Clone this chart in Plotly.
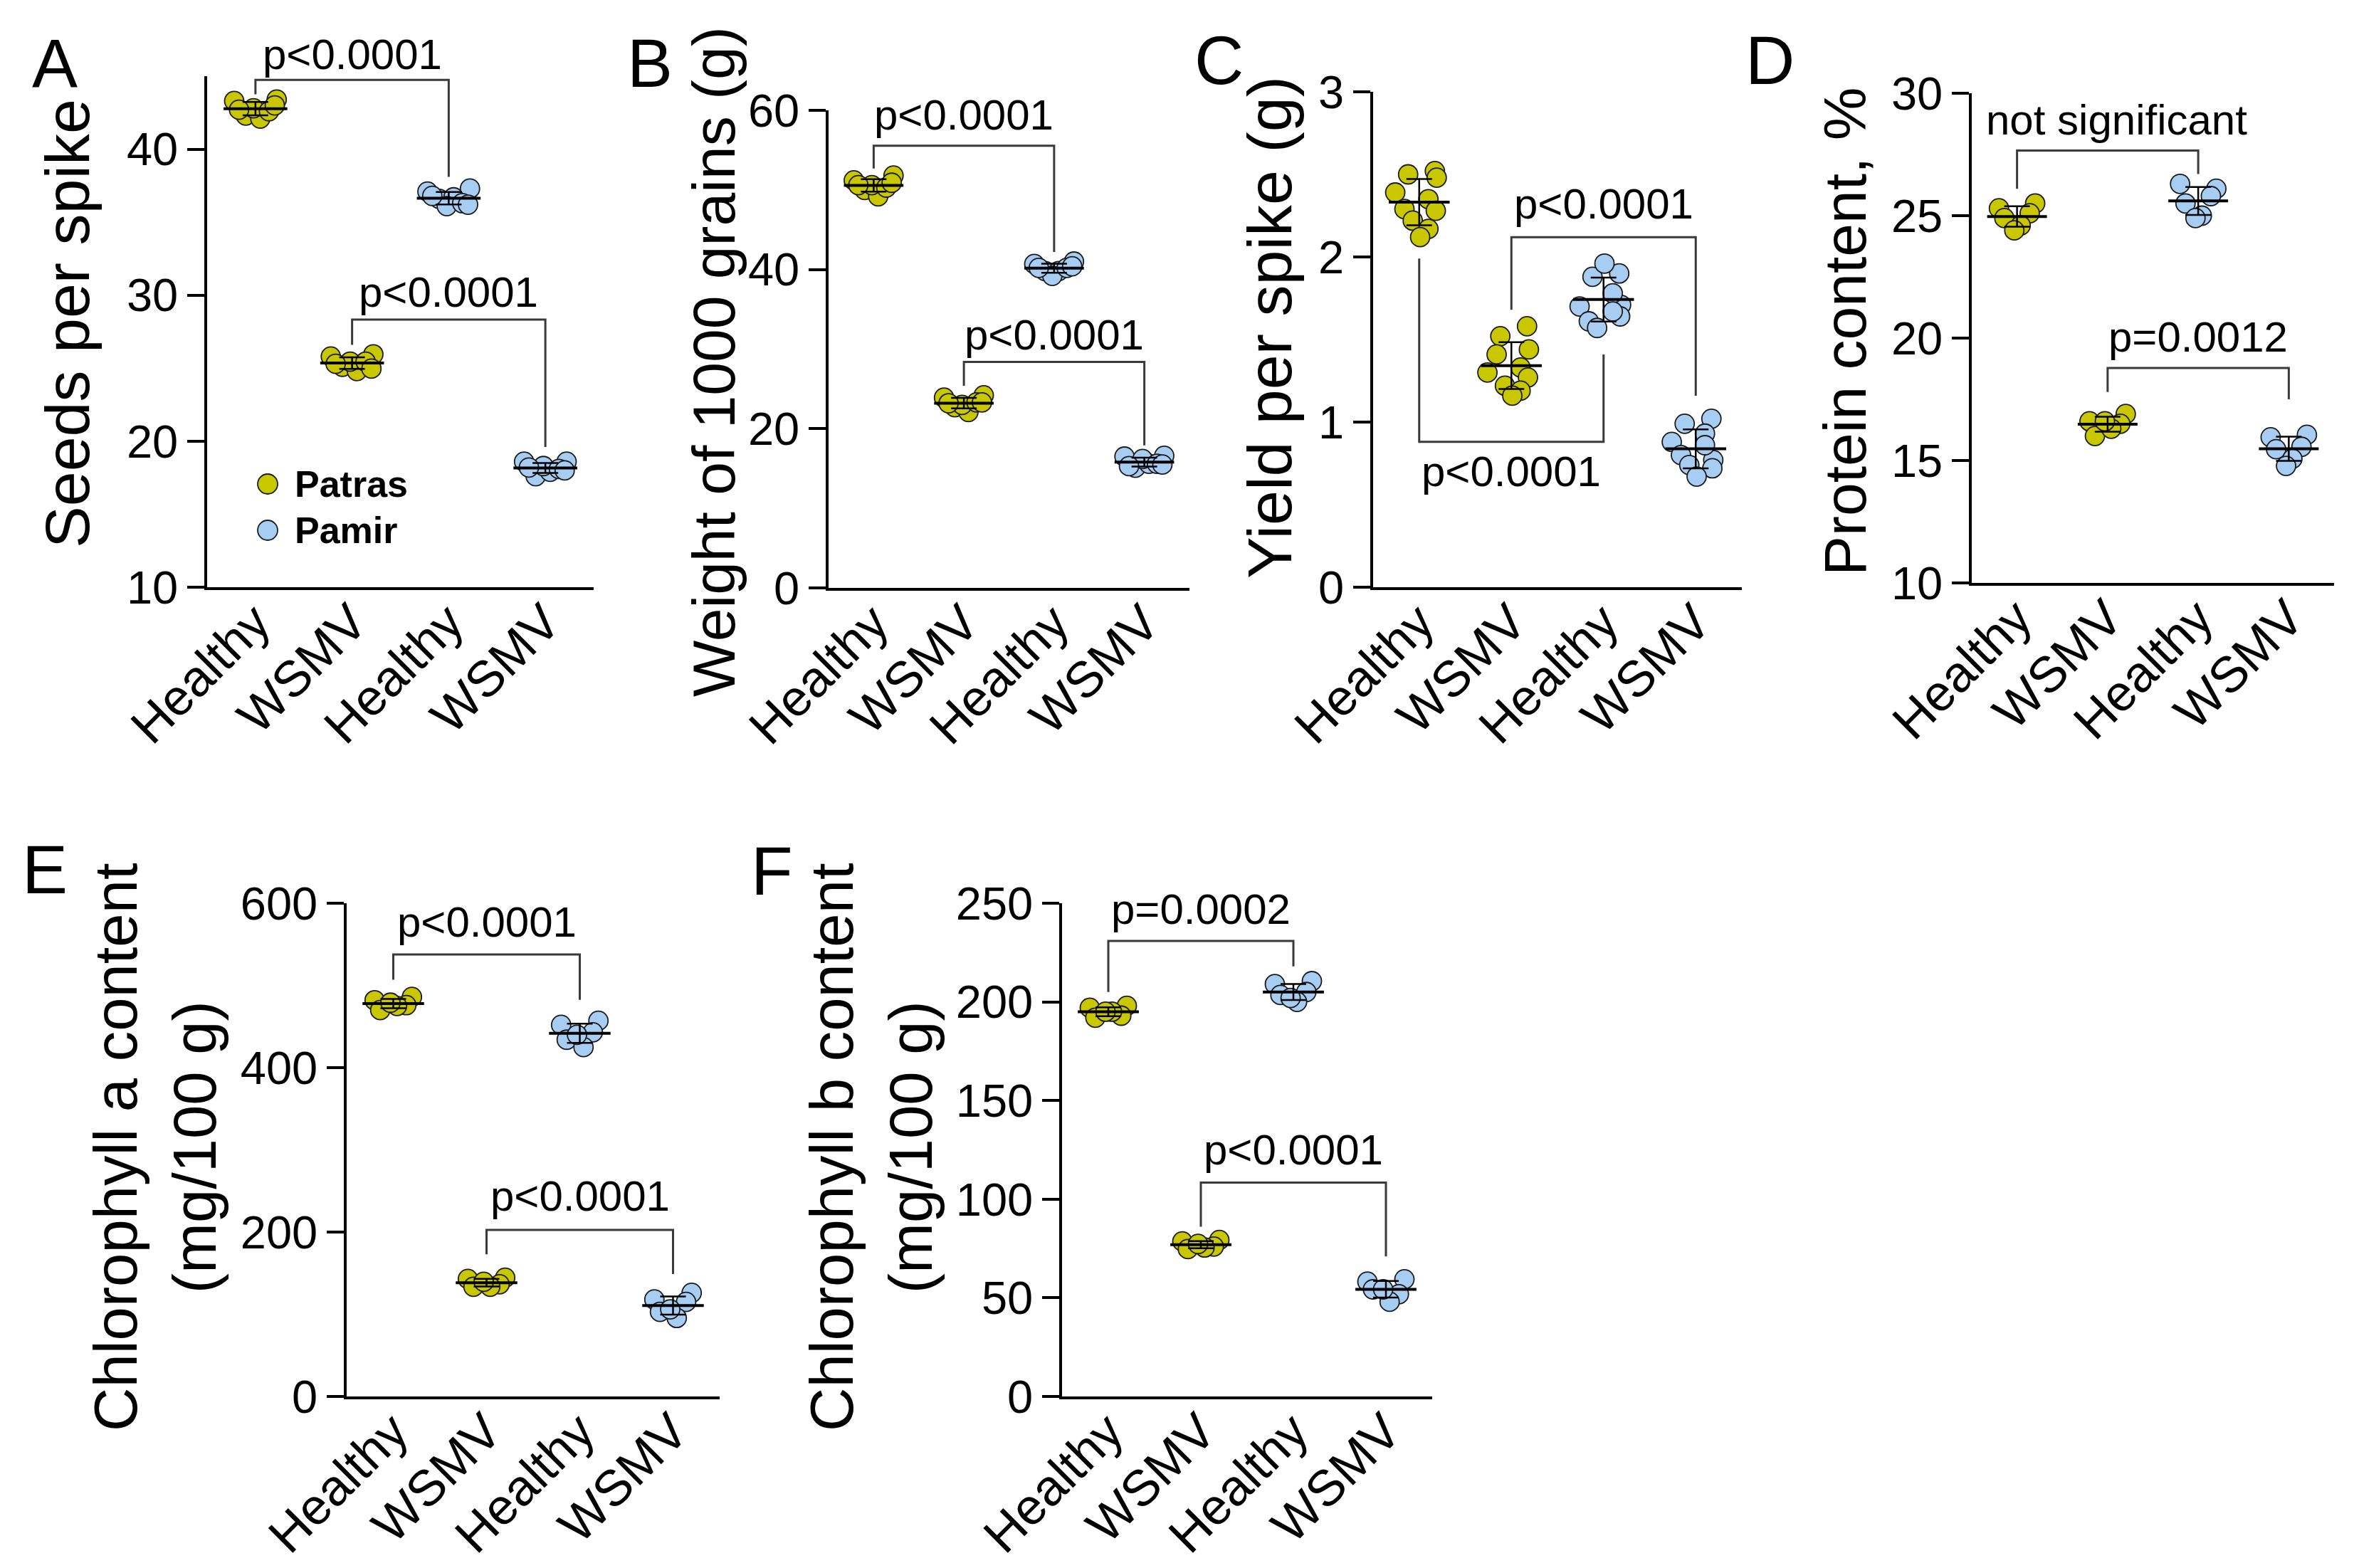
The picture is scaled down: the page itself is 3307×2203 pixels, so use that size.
import numpy as np
import plotly.graph_objects as go

W, H = 3307, 2203
FONT = "Liberation Sans, Arial, Helvetica, sans-serif"

# ---------------- data ----------------
CATEGORIES = ["Healthy", "WSMV", "Healthy", "WSMV"]
GROUP_CULTIVAR = ["Patras", "Patras", "Pamir", "Pamir"]
LEGEND_LABELS = ["Patras", "Pamir"]
PANEL_LETTERS = ["A", "B", "C", "D", "E", "F"]

# A - Seeds per spike
seeds_patras_healthy = [43.3, 43.4, 42.3, 42.1, 42.8, 42.6, 42.7, 43.0]
seeds_patras_wsmv = [25.8, 25.95, 25.1, 24.8, 25.45, 25.45, 25.3, 24.97]
seeds_pamir_healthy = [37.1, 37.3, 36.6, 36.7, 36.1, 36.3, 36.8, 36.2]
seeds_pamir_wsmv = [18.6, 18.6, 17.6, 17.9, 18.3, 18.1, 18.2, 18.0]

# B - Weight of 1000 grains (g)
weight_patras_healthy = [51.2, 51.8, 50.0, 49.2, 50.6, 50.3, 50.6, 50.9]
weight_patras_wsmv = [23.9, 24.2, 22.7, 22.1, 23.0, 23.3, 23.2, 23.3]
weight_pamir_healthy = [40.7, 41.0, 39.8, 39.8, 39.2, 40.2, 40.2, 40.4]
weight_pamir_wsmv = [16.5, 16.6, 15.1, 15.6, 16.2, 15.6, 15.3, 15.5]

# C - Yield per spike (g)
yield_patras_healthy = [2.50, 2.52, 2.48, 2.39, 2.29, 2.35, 2.28, 2.22, 2.17, 2.12]
yield_patras_wsmv = [1.52, 1.58, 1.44, 1.30, 1.41, 1.33, 1.27, 1.22, 1.19, 1.16]
yield_pamir_healthy = [1.88, 1.90, 1.71, 1.70, 1.61, 1.78, 1.64, 1.57, 1.67, 1.96]
yield_pamir_wsmv = [0.99, 1.02, 0.77, 0.88, 0.80, 0.93, 0.72, 0.74, 0.86, 0.67]

# D - Protein content, %
protein_patras_healthy = [25.3, 25.5, 25.1, 24.9, 24.6, 24.4]
protein_patras_wsmv = [16.6, 16.9, 16.5, 16.0, 16.3, 16.6]
protein_pamir_healthy = [26.3, 26.1, 25.8, 25.5, 25.0, 24.9]
protein_pamir_wsmv = [15.95, 16.05, 15.56, 15.46, 15.07, 14.78]

# E - Chlorophyll a content (mg/100 g)
chla_patras_healthy = [482, 486, 476, 470, 475, 479]
chla_patras_wsmv = [143, 144.5, 136.5, 133.5, 133.5, 139.5]
chla_pamir_healthy = [452, 457, 443, 434, 425, 440]
chla_pamir_wsmv = [118, 126, 115, 103, 95.5, 106]

# F - Chlorophyll b content (mg/100 g)
chlb_patras_healthy = [197, 198, 193, 192, 195, 195]
chlb_patras_wsmv = [78.6, 79.3, 76.0, 74.7, 75.5, 77.3]
chlb_pamir_healthy = [209, 210.5, 205, 203.5, 200, 202]
chlb_pamir_wsmv = [58.2, 59.4, 51.8, 54.3, 48.0, 54.3]

# y-axis titles
Y_TITLES = ["Seeds per spike", "Weight of 1000 grains (g)", "Yield per spike (g)",
            "Protein content, %", "Chlorophyll a content<br>(mg/100 g)",
            "Chlorophyll b content<br>(mg/100 g)"]
Y_RANGES = [[10, 45], [0, 60], [0, 3], [10, 30], [0, 600], [0, 250]]
Y_TICKS = [[10, 20, 30, 40], [0, 20, 40, 60], [0, 1, 2, 3], [10, 15, 20, 25, 30],
           [0, 200, 400, 600], [0, 50, 100, 150, 200, 250]]

# brackets: (left group, right group, left leg end, right leg end, bar level, label, label x, label y)
BRACKETS = [
    [(0, 2, 43.76, 38.1, 44.74, "p<0.0001", 1.0, 46.5),
     (1, 3, 26.6, 19.6, 28.33, "p<0.0001", 2.0, 30.2)],
    [(0, 2, 52.7, 42.2, 55.55, "p<0.0001", 1.0, 59.4),
     (1, 3, 25.4, 17.9, 28.4, "p<0.0001", 2.0, 31.8)],
    [(1, 3, 1.68, 1.16, 2.12, "p<0.0001", 2.0, 2.32),
     (0, 2, 1.99, 1.41, 0.88, "p<0.0001", 1.0, 0.70)],
    [(0, 2, 26.1, 26.7, 27.66, "not significant", 1.1, 28.9),
     (1, 3, 17.8, 17.5, 18.78, "p=0.0012", 2.0, 20.05)],
    [(0, 2, 507, 482.5, 537.6, "p<0.0001", 1.0, 577),
     (1, 3, 173, 149, 202.7, "p<0.0001", 2.0, 244)],
    [(0, 2, 205, 218, 230.9, "p=0.0002", 1.0, 247),
     (1, 3, 86, 71, 108.4, "p<0.0001", 2.0, 125)],
]

PANEL_GROUPS = [
    [seeds_patras_healthy, seeds_patras_wsmv, seeds_pamir_healthy, seeds_pamir_wsmv],
    [weight_patras_healthy, weight_patras_wsmv, weight_pamir_healthy, weight_pamir_wsmv],
    [yield_patras_healthy, yield_patras_wsmv, yield_pamir_healthy, yield_pamir_wsmv],
    [protein_patras_healthy, protein_patras_wsmv, protein_pamir_healthy, protein_pamir_wsmv],
    [chla_patras_healthy, chla_patras_wsmv, chla_pamir_healthy, chla_pamir_wsmv],
    [chlb_patras_healthy, chlb_patras_wsmv, chlb_pamir_healthy, chlb_pamir_wsmv],
]

# ---------------- layout / style ----------------
COLORS = {"Patras": "#C9C800", "Pamir": "#A8CDF3"}
EDGE = "#1c1c1c"
# plot boxes in pixels: (left, right, top, bottom)
BOXES = [(283, 826, 99, 817), (1156, 1663, 147, 818), (1921, 2439, 121, 817),
         (2762, 3271, 123, 811), (479, 1003, 1261, 1954), (1484, 2004, 1261, 1954)]
TITLE_POS = [(86, 447, 88), (995, 500, 84), (1776, 452, 88), (2584, 458, 84),
             (210, 1604, 85), (1216, 1604, 85)]
LETTER_POS = [(69, 81), (905, 81), (1704, 77), (2478, 77), (55, 1213), (1076, 1215)]
JITTER = {
    8: [-0.22, 0.22, -0.10, 0.05, -0.02, 0.14, -0.17, 0.20],
    10: [-0.12, 0.17, 0.19, -0.26, -0.16, 0.10, 0.18, -0.07, 0.10, 0.01],
    6: [-0.20, 0.20, 0.14, -0.14, 0.04, -0.03],
}
MEAN_HALF = 0.33


def px(x):
    return x / W


def py(y):
    return 1 - y / H


fig = go.Figure()
shapes = []
annotations = []

for k in range(6):
    n = k + 1
    xa = "x" if n == 1 else f"x{n}"
    ya = "y" if n == 1 else f"y{n}"
    groups = PANEL_GROUPS[k]
    l, r, t, b = BOXES[k]
    y0r, y1r = Y_RANGES[k]

    def data_to_paper_y(v):
        pix = b - (v - y0r) / (y1r - y0r) * (b - t)
        return py(pix)

    # points
    for i, vals in enumerate(groups):
        offs = JITTER[len(vals)]
        fig.add_trace(go.Scatter(
            x=[i + o for o in offs], y=vals, mode="markers",
            marker=dict(size=27, color=COLORS[GROUP_CULTIVAR[i]],
                        line=dict(color=EDGE, width=1.8)),
            xaxis=xa, yaxis=ya, showlegend=False, cliponaxis=False,
            hoverinfo="skip"))
    # mean and SD
    for i, vals in enumerate(groups):
        m = float(np.mean(vals))
        sd = float(np.std(vals, ddof=1))
        fig.add_trace(go.Scatter(
            x=[i - MEAN_HALF, i + MEAN_HALF], y=[m, m], mode="lines",
            line=dict(color="black", width=4), xaxis=xa, yaxis=ya,
            showlegend=False, hoverinfo="skip"))
        fig.add_trace(go.Scatter(
            x=[i], y=[m], mode="markers", marker=dict(size=1, opacity=0),
            error_y=dict(type="data", array=[sd], color="black", thickness=2.5, width=18),
            xaxis=xa, yaxis=ya, showlegend=False, hoverinfo="skip"))
    # brackets
    for (gl, gr, yl, yr, yb, lab, lx, ly) in BRACKETS[k]:
        shapes.append(dict(type="path", xref=xa, yref=ya,
                           path=f"M {gl},{yl} L {gl},{yb} L {gr},{yb} L {gr},{yr}",
                           line=dict(color="#3a3a3a", width=3)))
        annotations.append(dict(text=lab, x=lx, y=data_to_paper_y(ly), xref=xa,
                                yref="paper", showarrow=False, xanchor="center",
                                yanchor="middle",
                                font=dict(family=FONT, size=60, color="black")))
    # axes
    fig.layout[f"xaxis{'' if n == 1 else n}"] = dict(
        domain=[px(l), px(r)], range=[-0.5, 3.5], tickmode="array",
        tickvals=[0, 1, 2, 3], ticktext=CATEGORIES, tickangle=-45,
        ticklabelstandoff=-25,
        showline=True, linewidth=3.5, linecolor="black", ticks="",
        showgrid=False, zeroline=False, anchor=ya,
        tickfont=dict(family=FONT, size=71, color="black"), fixedrange=True)
    fig.layout[f"yaxis{'' if n == 1 else n}"] = dict(
        domain=[py(b), py(t)], range=Y_RANGES[k], tickmode="array",
        tickvals=Y_TICKS[k], ticks="outside", ticklen=24, tickwidth=3.5,
        tickcolor="black", showline=True, linewidth=3.5, linecolor="black",
        showgrid=False, zeroline=False, anchor=xa,
        tickfont=dict(family=FONT, size=65, color="black"), fixedrange=True)
    # y title
    tx, tyy, tsize = TITLE_POS[k]
    annotations.append(dict(text=Y_TITLES[k], x=px(tx), y=py(tyy), xref="paper",
                            yref="paper", showarrow=False, textangle=-90,
                            xanchor="center", yanchor="middle",
                            font=dict(family=FONT, size=tsize, color="black")))
    # panel letter
    lx_, ly_ = LETTER_POS[k]
    annotations.append(dict(text=PANEL_LETTERS[k], x=px(lx_), y=py(ly_), xref="paper",
                            yref="paper", showarrow=False, xanchor="center",
                            yanchor="middle",
                            font=dict(family=FONT, size=96, color="black")))

# legend (panel A)
LEG_POS = [(368, 672), (368, 737)]
for name, (cx, cy) in zip(LEGEND_LABELS, LEG_POS):
    shapes.append(dict(type="circle", xref="paper", yref="paper",
                       xsizemode="pixel", ysizemode="pixel",
                       xanchor=px(cx), yanchor=py(cy), x0=-14, x1=14, y0=-14, y1=14,
                       fillcolor=COLORS[name], line=dict(color=EDGE, width=1.8)))
    annotations.append(dict(text=name, x=px(cx + 36), y=py(cy), xref="paper",
                            yref="paper", showarrow=False, xanchor="left",
                            yanchor="middle",
                            font=dict(family=FONT, size=52, color="black", weight="bold")))

fig.update_layout(width=W, height=H, margin=dict(l=0, r=0, t=0, b=0),
                  template="none", paper_bgcolor="white", plot_bgcolor="white",
                  showlegend=False, shapes=shapes, annotations=annotations)

fig.write_html("out.html")
